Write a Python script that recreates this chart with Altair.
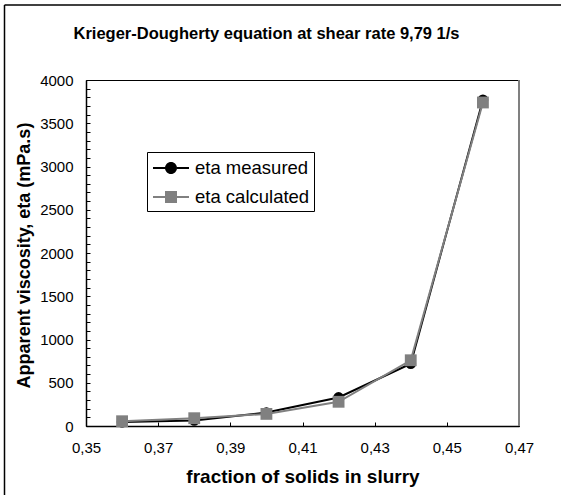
import altair as alt
import pandas as pd

# ---- data ----
fraction = [0.36, 0.38, 0.40, 0.42, 0.44, 0.46]
eta_measured = [45, 65, 155, 330, 720, 3770]
eta_calculated = [55, 90, 140, 280, 760, 3740]
series_names = ["eta measured", "eta calculated"]
series_colors = ["#000000", "#808080"]
x_tick_values = [0.35, 0.37, 0.39, 0.41, 0.43, 0.45, 0.47]
y_label_values = [0, 500, 1000, 1500, 2000, 2500, 3000, 3500, 4000]
y_minor_values = list(range(0, 4001, 100))

FONT = "Liberation Sans"
W, H = 433, 346
PAD_L, PAD_T = 86, 80

df_m = pd.DataFrame({"x": fraction, "y": eta_measured, "series": series_names[0]})
df_c = pd.DataFrame({"x": fraction, "y": eta_calculated, "series": series_names[1]})
df_leg = pd.DataFrame({"series": series_names})

xscale = alt.Scale(domain=[0.35, 0.47], nice=False, zero=False)
yscale = alt.Scale(domain=[0, 4000], nice=False)

x_main_axis = alt.Axis(
    values=x_tick_values,
    labelExpr="replace(format(datum.value, '.2f'), '.', ',')",
    labelFlush=False,
    ticks=False, tickSize=0, labelPadding=14, grid=False,
    domainColor="black", domainWidth=1.5,
    labelFont=FONT, labelFontSize=15, labelColor="black",
    title="fraction of solids in slurry", titleFont=FONT, titleFontSize=19,
    titleFontWeight="bold", titleColor="black", titlePadding=12, orient="bottom",
)
y_main_axis = alt.Axis(
    values=y_label_values, format="d", labelFlush=False,
    ticks=False, tickSize=0, labelPadding=13, grid=False,
    domainColor="black", domainWidth=1.5,
    labelFont=FONT, labelFontSize=15, labelColor="black",
    title="Apparent viscosity, eta (mPa.s)", titleFont=FONT, titleFontSize=18,
    titleFontWeight="bold", titleColor="black", titleX=-62, titleY=175,
    titleBaseline="middle", orient="left",
)
x_tick_axis = alt.Axis(
    values=x_tick_values, orient="top", offset=-H, labels=False, domain=False,
    ticks=True, tickSize=4, tickColor="black", tickWidth=1, grid=False, title=None,
)
y_tick_axis = alt.Axis(
    values=y_minor_values, orient="right", offset=-W, labels=False, domain=False,
    ticks=True, tickSize=4, tickColor="black", tickWidth=1, grid=False, title=None,
)

line_m = alt.Chart(df_m).mark_line(color=series_colors[0], strokeWidth=2).encode(
    x=alt.X("x:Q", scale=xscale, axis=x_main_axis),
    y=alt.Y("y:Q", scale=yscale, axis=y_main_axis),
)
pts_m = alt.Chart(df_m).mark_point(shape="circle", filled=True, size=115, opacity=1,
                                   color=series_colors[0]).encode(
    x=alt.X("x:Q", scale=xscale, axis=x_tick_axis),
    y=alt.Y("y:Q", scale=yscale, axis=y_tick_axis),
)
line_c = alt.Chart(df_c).mark_line(color=series_colors[1], strokeWidth=2).encode(
    x=alt.X("x:Q", scale=xscale, axis=None),
    y=alt.Y("y:Q", scale=yscale, axis=None),
)
pts_c = alt.Chart(df_c).mark_point(shape="square", filled=True, size=140, opacity=1,
                                   color=series_colors[1]).encode(
    x=alt.X("x:Q", scale=xscale, axis=None),
    y=alt.Y("y:Q", scale=yscale, axis=None),
)

# legend symbols: line segment with marker (1 unit = 12 px, shifted right)
circle_path = ("M-0.833,-0.083H0.17V0.083H-0.833Z M1.164,-0.083H2.167V0.083H1.164Z "
               "M0.167,0A0.5,0.5 0 1,0 1.167,0A0.5,0.5 0 1,0 0.167,0Z")
square_path = ("M-0.833,-0.083H0.167V0.083H-0.833Z M1.167,-0.083H2.167V0.083H1.167Z "
               "M0.167,-0.5H1.167V0.5H0.167Z")

legend_def = alt.Legend(
    title=None, orient="none", legendX=61, legendY=72, padding=4,
    strokeColor="black", fillColor="white", labelFont=FONT, labelFontSize=18.5,
    labelColor="black", symbolSize=576, symbolStrokeWidth=0, rowPadding=7,
    labelOffset=20, symbolOpacity=1,
)
legend_layer = alt.Chart(df_leg).transform_filter("false").mark_point(
    filled=True, size=576, opacity=1
).encode(
    color=alt.Color("series:N", scale=alt.Scale(domain=series_names, range=series_colors),
                    legend=legend_def),
    shape=alt.Shape("series:N", scale=alt.Scale(domain=series_names,
                                                range=[circle_path, square_path]),
                    legend=legend_def),
)

one = alt.Data(values=[{"k": 1}])
right_border = alt.Chart(one).mark_rule(color="#808080", strokeWidth=2).encode(
    x=alt.value(W), y=alt.value(0), y2=alt.value(H))
frame_left = alt.Chart(one).mark_rule(color="black", strokeWidth=1.5, clip=False).encode(
    x=alt.value(4.5 - PAD_L), y=alt.value(5 - PAD_T), y2=alt.value(495 - PAD_T))
frame_top = alt.Chart(one).mark_rule(color="black", strokeWidth=1.5, clip=False).encode(
    x=alt.value(4.5 - PAD_L), x2=alt.value(561 - PAD_L), y=alt.value(5 - PAD_T))

chart = alt.layer(
    line_m, pts_m, line_c, pts_c, legend_layer, right_border, frame_left, frame_top
).resolve_axis(x="independent", y="independent").properties(
    width=W, height=H,
    autosize=alt.AutoSizeParams(type="none"),
    padding={"left": PAD_L, "top": PAD_T, "right": 561 - PAD_L - W, "bottom": 495 - PAD_T - H},
    background="white",
    title=alt.TitleParams(
        "Krieger-Dougherty equation at shear rate 9,79 1/s", font=FONT, fontSize=16.5,
        fontWeight="bold", color="black", anchor="middle", frame="group", dx=-36,
        offset=-51, baseline="alphabetic",
    ),
).configure_view(stroke="black", strokeWidth=1)

chart.save("out.html", embed_options={"renderer": "svg", "actions": False})
